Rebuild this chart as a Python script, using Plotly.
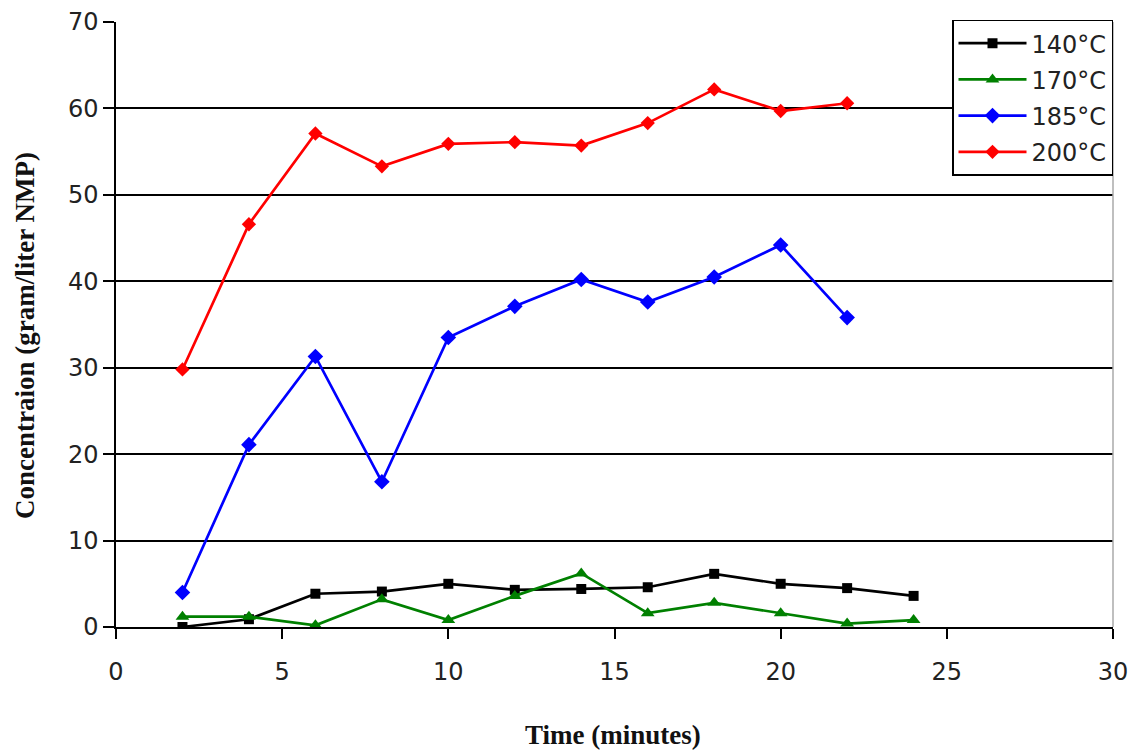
import plotly.graph_objects as go

time_140 = [2, 4, 6, 8, 10, 12, 14, 16, 18, 20, 22, 24]
conc_140 = [0.0, 0.9, 3.85, 4.1, 5.0, 4.3, 4.4, 4.6, 6.15, 5.0, 4.5, 3.6]

time_170 = [2, 4, 6, 8, 10, 12, 14, 16, 18, 20, 22, 24]
conc_170 = [1.2, 1.2, 0.2, 3.2, 0.8, 3.6, 6.2, 1.6, 2.8, 1.6, 0.4, 0.8]

time_185 = [2, 4, 6, 8, 10, 12, 14, 16, 18, 20, 22]
conc_185 = [4.0, 21.1, 31.3, 16.8, 33.5, 37.1, 40.2, 37.6, 40.5, 44.2, 35.8]

time_200 = [2, 4, 6, 8, 10, 12, 14, 16, 18, 20, 22]
conc_200 = [29.8, 46.6, 57.1, 53.3, 55.9, 56.1, 55.7, 58.3, 62.2, 59.7, 60.6]

x_title = "Time (minutes)"
y_title = "Concentraion (gram/liter NMP)"

series = [
    ("140°C", time_140, conc_140, "black", "square", 10),
    ("170°C", time_170, conc_170, "green", "triangle-up", 12),
    ("185°C", time_185, conc_185, "blue", "diamond", 12),
    ("200°C", time_200, conc_200, "red", "diamond", 11),
]

W, H = 1136, 750
L, R, T, B = 116, 23, 22, 123

fig = go.Figure()
for i, (name, xs, ys, col, sym, sz) in enumerate(series):
    fig.add_trace(go.Scatter(
        x=xs, y=ys, name=name, mode="lines+markers",
        line=dict(color=col, width=2.7),
        marker=dict(color=col, symbol=sym, size=sz),
        legendgroup=f"g{i}",
    ))

tick_font = dict(family="DejaVu Sans", size=24, color="#222")
title_font = dict(family="Liberation Serif, Times New Roman", size=27, color="#111")

fig.update_layout(
    width=W, height=H,
    margin=dict(l=L, r=R, t=T, b=B, autoexpand=False),
    paper_bgcolor="white", plot_bgcolor="white",
    showlegend=True,
    legend=dict(
        x=1.0, y=1.004, xanchor="right", yanchor="top",
        bgcolor="white", bordercolor="black", borderwidth=1.5,
        font=dict(family="DejaVu Sans", size=24, color="#222"),
        tracegroupgap=2,
        itemwidth=68,
    ),
    xaxis=dict(
        range=[0, 30], tickvals=[0, 5, 10, 15, 20, 25, 30],
        showgrid=False, zeroline=False, automargin=False,
        showline=True, linecolor="black", linewidth=1.5,
        ticks="outside", ticklen=10, tickwidth=1.5, tickcolor="black",
        ticklabelstandoff=12,
        tickfont=tick_font,
    ),
    yaxis=dict(
        range=[0, 70], tickvals=[0, 10, 20, 30, 40, 50, 60, 70],
        showgrid=True, gridcolor="black", gridwidth=1.5,
        zeroline=False, automargin=False,
        showline=True, linecolor="black", linewidth=1.5,
        ticks="outside", ticklen=11, tickwidth=1.5, tickcolor="black",
        tickfont=tick_font,
    ),
    annotations=[
        dict(text=f"<b>{x_title}</b>", xref="paper", yref="paper",
             x=(613 - L) / (W - L - R), y=-(735 - (H - B)) / (H - T - B),
             xanchor="center", yanchor="middle", showarrow=False, font=title_font),
        dict(text=f"<b>{y_title}</b>", xref="paper", yref="paper",
             x=-(L - 25) / (W - L - R), y=1 - (336 - T) / (H - T - B),
             xanchor="center", yanchor="middle", showarrow=False, textangle=-90,
             font=title_font),
    ],
)

# light gray right border of the plot area
fig.add_shape(type="line", xref="paper", yref="paper", x0=1, x1=1, y0=0, y1=1,
              line=dict(color="#aaaaaa", width=1.5))

fig.write_html(
    "out.html",
    config={"displayModeBar": False},
    post_script="document.body.style.margin='0';document.body.style.overflow='hidden';",
)
